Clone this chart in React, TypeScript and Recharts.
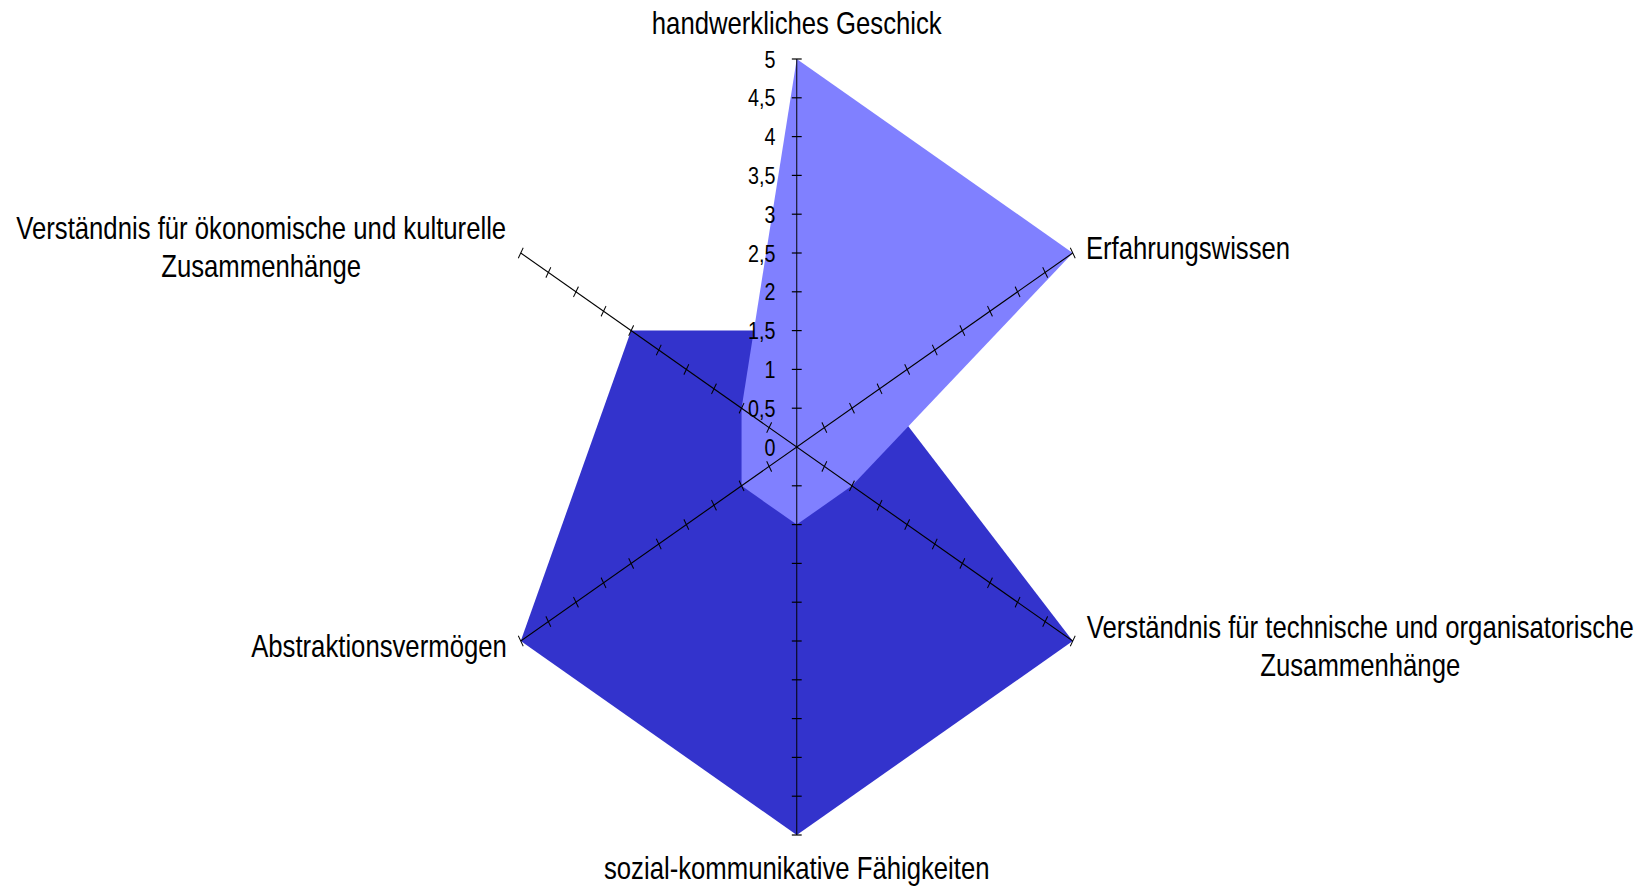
import React from 'react';
import { RadarChart, Radar, PolarAngleAxis, PolarRadiusAxis } from 'recharts';

// ---- data ----
const categories = [
  'handwerkliches Geschick',
  'Erfahrungswissen',
  'Verständnis für technische und organisatorische\nZusammenhänge',
  'sozial-kommunikative Fähigkeiten',
  'Abstraktionsvermögen',
  'Verständnis für ökonomische und kulturelle\nZusammenhänge',
];
const seriesDark = [1.5, 1.5, 5, 5, 5, 3];
const seriesLight = [5, 5, 1, 1, 1, 1];
const radiusTicks = [0, 0.5, 1, 1.5, 2, 2.5, 3, 3.5, 4, 4.5, 5];
const radiusTickLabels = ['0', '0,5', '1', '1,5', '2', '2,5', '3', '3,5', '4', '4,5', '5'];

const data = categories.map((c, i) => ({ subject: c, dark: seriesDark[i], light: seriesLight[i] }));

// ---- layout ----
const SQUEEZE = 0.8214;
const W = 2012;
const H = 887;
const CX = 970;
const CY = 447;
const R = 388;
const FONT = '"Liberation Sans", Arial, sans-serif';
const LABEL_SIZE = 31.3;
const TICK_SIZE = 24;
const TICK_HALF = 6;
const SPOKE_ANGLES = [90, 30, -30, -90, -150, 150];

// label placement relative to the end of each spoke
const labelLayout = [
  { anchor: 'middle', dx: 0, dy: -25 },
  { anchor: 'start', dx: 16, dy: 6 },
  { anchor: 'middle', dx: 350, dy: -3 },
  { anchor: 'middle', dx: 0, dy: 44 },
  { anchor: 'end', dx: -17, dy: 16 },
  { anchor: 'middle', dx: -316, dy: -14 },
];
const LINE_H = 38;

const AngleTick = (props: any) => {
  const { payload, index } = props;
  const ang = (payload.coordinate * Math.PI) / 180;
  const ex = CX + R * Math.cos(ang);
  const ey = CY - R * Math.sin(ang);
  const lay = labelLayout[index] || labelLayout[0];
  const lines = String(payload.value).split('\n');
  const x = ex + lay.dx;
  return (
    <text
      x={x}
      y={ey + lay.dy}
      textAnchor={lay.anchor}
      fontFamily={FONT}
      fontSize={LABEL_SIZE}
      fill="#000"
    >
      {lines.map((l, i) => (
        <tspan key={i} x={x} dy={i === 0 ? 0 : LINE_H}>
          {l}
        </tspan>
      ))}
    </text>
  );
};

const makeRadiusTick = (angleDeg: number, showLabels: boolean) => (props: any) => {
  const { x, y, payload } = props;
  const rad = (angleDeg * Math.PI) / 180;
  const px = Math.sin(rad) * TICK_HALF;
  const py = Math.cos(rad) * TICK_HALF;
  const v = payload.value;
  const idx = radiusTicks.indexOf(v);
  return (
    <g>
      {v > 0 && (
        <line x1={x - px} y1={y - py} x2={x + px} y2={y + py} stroke="#000" strokeWidth={1.2} />
      )}
      {showLabels && (
        <text
          x={x - 26}
          y={y}
          dy="0.36em"
          textAnchor="end"
          fontFamily={FONT}
          fontSize={TICK_SIZE}
          fill="#000"
        >
          {idx >= 0 ? radiusTickLabels[idx] : String(v)}
        </text>
      )}
    </g>
  );
};

export default function App() {
  return (
    <div
      style={{
        position: 'absolute',
        left: 0,
        top: 0,
        width: 1652,
        height: H,
        overflow: 'hidden',
        background: '#fff',
      }}
    >
      <div style={{ width: W, height: H, transform: `scaleX(${SQUEEZE})`, transformOrigin: '0 0' }}>
        <RadarChart
          width={W}
          height={H}
          data={data}
          cx={CX}
          cy={CY}
          outerRadius={R}
          startAngle={90}
          endAngle={-270}
          margin={{ top: 0, right: 0, bottom: 0, left: 0 }}
        >
          <PolarAngleAxis
            dataKey="subject"
            tick={<AngleTick />}
            tickLine={false}
            axisLine={false}
          />
          <Radar
            dataKey="dark"
            fill="#3333CC"
            fillOpacity={1}
            stroke="none"
            isAnimationActive={false}
            dot={false}
          />
          <Radar
            dataKey="light"
            fill="#8080FF"
            fillOpacity={1}
            stroke="none"
            isAnimationActive={false}
            dot={false}
          />
          {SPOKE_ANGLES.map((a, i) => (
            <PolarRadiusAxis
              key={i}
              radiusAxisId={i}
              angle={a}
              type="number"
              domain={[0, 5]}
              ticks={radiusTicks}
              tickCount={11}
              allowDataOverflow
              axisLine={{ stroke: '#000', strokeWidth: 1.2 }}
              tick={makeRadiusTick(a, i === 0)}
            />
          ))}
        </RadarChart>
      </div>
    </div>
  );
}
